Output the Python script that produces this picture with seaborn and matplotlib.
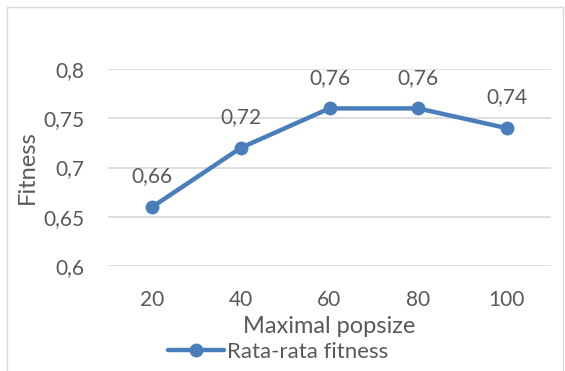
import pandas as pd
import seaborn as sns
import matplotlib.pyplot as plt
from matplotlib.patches import Rectangle

popsize = [20, 40, 60, 80, 100]
fitness = [0.66, 0.72, 0.76, 0.76, 0.74]
series_name = "Rata-rata fitness"

sns.set_theme(style="white")
plt.rcParams['font.family'] = ['Lato', 'DejaVu Sans']
grey = "#595959"
blue = "#4A7EBB"

df = pd.DataFrame({"pos": range(len(popsize)), "fitness": fitness})

fig = plt.figure(figsize=(5.65, 3.71), dpi=100)
# plot area: x 108..551 px, y 69..266 px
ax = fig.add_axes([108 / 565, 1 - 266 / 371, 443 / 565, 197 / 371])

sns.lineplot(data=df, x="pos", y="fitness", ax=ax, color=blue, linewidth=3.2,
             marker="o", markersize=10, markeredgewidth=0, label=series_name)

# data labels
for i, v in enumerate(fitness):
    ax.annotate(f"{v:.2f}".replace(".", ","), (i, v), xytext=(0, 22),
                textcoords="offset points", ha="center", va="center",
                fontsize=15, color=grey)

ax.set_xlim(-0.5, len(popsize) - 0.5)
ax.set_ylim(0.6, 0.8)
ax.set_yticks([0.6, 0.65, 0.7, 0.75, 0.8])
ax.set_yticklabels(["0,6", "0,65", "0,7", "0,75", "0,8"])
ax.set_xticks(range(len(popsize)))
ax.set_xticklabels([str(p) for p in popsize])
ax.yaxis.grid(True, color="#D9D9D9", linewidth=1.2)
ax.tick_params(axis="both", length=0, labelsize=15, labelcolor=grey)
ax.tick_params(axis="y", pad=17)
ax.tick_params(axis="x", pad=17)
for s in ax.spines.values():
    s.set_visible(False)
ax.set_axisbelow(True)
for ln in ax.lines:
    ln.set_clip_on(False)

ax.set_xlabel("Maximal popsize", fontsize=17, color=grey, va="center")
ax.set_ylabel("Fitness", fontsize=17, color=grey, va="center")
ax.xaxis.set_label_coords(0.5, -0.305)
ax.yaxis.set_label_coords(-0.181, 0.503)

ax.legend(loc="center", bbox_to_anchor=(0.385, -0.437), frameon=False,
          fontsize=16, labelcolor=grey, handlelength=2.5, handletextpad=0.15,
          borderaxespad=0, borderpad=0)

# chart border
fig.patches.append(Rectangle((7 / 565, -0.05), 556 / 565, 1 - 7 / 371 + 0.05,
                             transform=fig.transFigure, fill=False,
                             edgecolor="#D9D9D9", linewidth=1))

fig.savefig("out.png", dpi=100)
